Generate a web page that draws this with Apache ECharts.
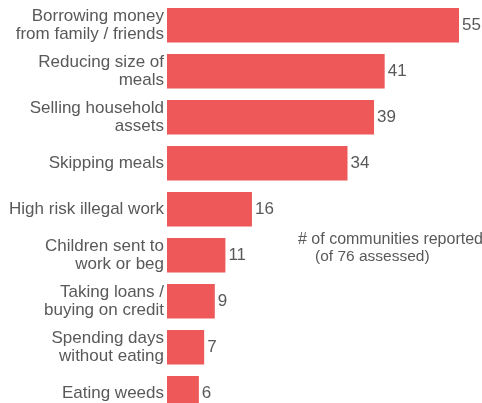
<!DOCTYPE html>
<html>
<head>
<meta charset="utf-8">
<script src="https://cdn.jsdelivr.net/npm/echarts@6/dist/echarts.min.js"></script>
<style>
html,body{margin:0;padding:0;background:#fff;}
#chart{width:482px;height:403px;}
</style>
</head>
<body>
<div id="chart"></div>
<script>
const categories = [
  "Borrowing money\nfrom family / friends",
  "Reducing size of\nmeals",
  "Selling household\nassets",
  "Skipping meals",
  "High risk illegal work",
  "Children sent to\nwork or beg",
  "Taking loans /\nbuying on credit",
  "Spending days\nwithout eating",
  "Eating weeds"
];
const values = [55, 41, 39, 34, 16, 11, 9, 7, 6];
const noteLine1 = "# of communities reported";
const noteLine2 = "(of 76 assessed)";

const chart = echarts.init(document.getElementById('chart'), null, {renderer: 'canvas'});
const font = "Liberation Sans, Arial, sans-serif";
chart.setOption({
  animation: false,
  backgroundColor: '#ffffff',
  grid: {left: 167, top: 2.25, width: 292, height: 414, containLabel: false, outerBoundsMode: 'none'},
  xAxis: {type: 'value', min: 0, max: 55, show: false},
  yAxis: {
    type: 'category',
    data: categories,
    inverse: true,
    axisLine: {show: false},
    axisTick: {show: false},
    splitLine: {show: false},
    axisLabel: {
      fontSize: 17, fontFamily: font, color: '#595959',
      lineHeight: 18, margin: 3, align: 'right'
    }
  },
  series: [{
    type: 'bar',
    data: values,
    barCategoryGap: '25%',
    itemStyle: {color: '#ee5858'},
    label: {
      show: true, position: 'right', distance: 3,
      fontSize: 17, fontFamily: font, color: '#595959'
    }
  }],
  graphic: [
    {type: 'text', left: 298, top: 232, style: {text: noteLine1, fontSize: 16, fontFamily: font, fill: '#595959'}},
    {type: 'text', left: 315, top: 249, style: {text: noteLine2, fontSize: 15.5, fontFamily: font, fill: '#595959'}}
  ]
});
</script>
</body>
</html>
